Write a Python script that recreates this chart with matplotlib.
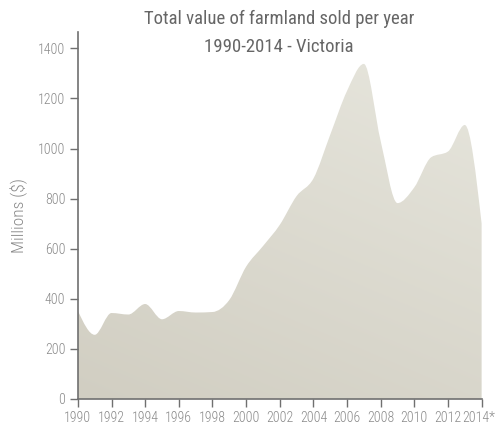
import numpy as np
import matplotlib
matplotlib.use('Agg')
import matplotlib.pyplot as plt
import matplotlib.transforms as mtransforms
from matplotlib.path import Path
from matplotlib.patches import PathPatch
from matplotlib import font_manager as fm

years = [1990, 1991, 1992, 1993, 1994, 1995, 1996, 1997, 1998, 1999, 2000, 2001, 2002,
         2003, 2004, 2005, 2006, 2007, 2008, 2009, 2010, 2011, 2012, 2013, 2014]
values = [352, 256, 343, 337, 379, 318, 351, 345, 347, 395, 528, 610, 695,
          810, 880, 1055, 1230, 1338, 1030, 782, 845, 965, 988, 1094, 700]
xtick_years = list(range(1990, 2015, 2))
xtick_labels = [str(y) for y in xtick_years[:-1]] + ['2014*']
yticks = [0, 200, 400, 600, 800, 1000, 1200, 1400]

names = {f.name for f in fm.fontManager.ttflist}
fam = [f for f in ['Roboto Condensed', 'Liberation Sans Narrow'] if f in names]
plt.rcParams['font.family'] = fam + ['DejaVu Sans']

TITLE_C = '#666666'
LABEL_C = '#8a8a8a'
AXIS_C = '#707070'


def monotone_slopes(x, y):
    x = np.asarray(x, float)
    y = np.asarray(y, float)
    n = len(x)
    h = np.diff(x)
    d = np.diff(y) / h
    m = np.zeros(n)
    for i in range(1, n - 1):
        s0, s1 = d[i - 1], d[i]
        p = (s0 * h[i] + s1 * h[i - 1]) / (h[i - 1] + h[i])
        m[i] = (np.sign(s0) + np.sign(s1)) * min(abs(s0), abs(s1), 0.5 * abs(p))
    m[0] = (3 * d[0] - m[1]) / 2
    m[-1] = (3 * d[-1] - m[-2]) / 2
    return m


def area_path(x, y):
    m = monotone_slopes(x, y)
    verts = [(x[0], 0), (x[0], y[0])]
    codes = [Path.MOVETO, Path.LINETO]
    for i in range(len(x) - 1):
        h = x[i + 1] - x[i]
        verts += [(x[i] + h / 3, y[i] + m[i] * h / 3),
                  (x[i + 1] - h / 3, y[i + 1] - m[i + 1] * h / 3),
                  (x[i + 1], y[i + 1])]
        codes += [Path.CURVE4] * 3
    verts += [(x[-1], 0), (x[0], 0)]
    codes += [Path.LINETO, Path.CLOSEPOLY]
    return Path(verts, codes)


fig = plt.figure(figsize=(4.96, 4.28), dpi=100)
ax = fig.add_axes([0.157, 0.068, 0.814, 0.857])

ymax = 1465
ax.set_xlim(1990, 2014)
ax.set_ylim(0, ymax)

patch = PathPatch(area_path(years, values), facecolor='none', edgecolor='none')
ax.add_patch(patch)

# diagonal gradient, darker bottom-left to lighter top-right
c0 = np.array([209, 206, 194]) / 255
c1 = np.array([230, 229, 220]) / 255
gx, gy = np.meshgrid(np.linspace(0, 1, 200), np.linspace(0, 1, 200))
t = np.clip(0.35 * gx + 0.75 * gy, 0, 1)[..., None]
grad = c0 + (c1 - c0) * t
im = ax.imshow(grad, extent=[1990, 2014, 0, ymax], origin='lower', aspect='auto',
               interpolation='bilinear', zorder=1)
im.set_clip_path(patch)

for side in ['top', 'right']:
    ax.spines[side].set_visible(False)
for side in ['left', 'bottom']:
    ax.spines[side].set_color(AXIS_C)
    ax.spines[side].set_linewidth(1.2)
    ax.spines[side].set_zorder(3)

ax.set_xticks(xtick_years)
ax.set_xticklabels(xtick_labels)
ax.set_yticks(yticks)
ax.tick_params(axis='both', direction='out', length=6, width=1, color=AXIS_C,
               labelcolor=LABEL_C, labelsize=10, pad=3)
for lab in ax.get_xticklabels() + ax.get_yticklabels():
    lab.set_fontweight('light')

# last label: nudge left so the asterisk stays inside the figure
last = ax.get_xticklabels()[-1]
last.set_transform(last.get_transform() + mtransforms.ScaledTranslation(-3 / 100, 0, fig.dpi_scale_trans))

ax.set_ylabel('Millions ($)', color=LABEL_C, fontsize=12.5, labelpad=7, fontweight='light')

fig.text(0.562, 0.955, 'Total value of farmland sold per year', ha='center', va='center',
         fontsize=13.5, color=TITLE_C)
fig.text(0.562, 0.89, '1990-2014 - Victoria', ha='center', va='center',
         fontsize=13.5, color=TITLE_C)

fig.savefig('out.png', dpi=100)
